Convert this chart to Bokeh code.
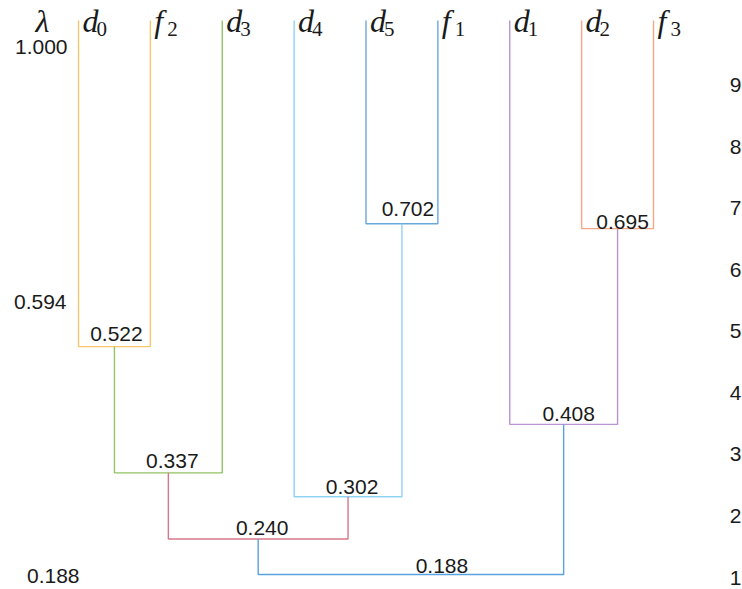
from bokeh.plotting import figure
from bokeh.models import Range1d, ColumnDataSource
from bokeh.core.properties import value
from bokeh.embed import file_html
from bokeh.resources import INLINE

# ---------------- data ----------------
leaf_names = ["d0", "f2", "d3", "d4", "d5", "f1", "d1", "d2", "f3"]
leaf_lambda = 1.000
# merge k is named "m<k>"
merge_left = ["d0", "m0", "d5", "d4", "m1", "d2", "d1", "m4"]
merge_right = ["f2", "d3", "f1", "m2", "m3", "f3", "m5", "m6"]
merge_lambda = [0.522, 0.337, 0.702, 0.302, 0.240, 0.695, 0.408, 0.188]
lambda_ticks = [1.000, 0.594, 0.188]
level_ticks = [1, 2, 3, 4, 5, 6, 7, 8, 9]

# ---------------- style ----------------
merge_colors = ["#f6c66b", "#92c462", "#6aa8dc", "#8fd3f3",
                "#d7788a", "#f5a888", "#ba93d1", "#5aa2dd"]
label_dx = [2, 4, 6, 4, 4, 5, 5, 31]
label_dy = [-12.5, -12, -15, -9.5, -11, -6.5, -10.5, -8.5]
tick_dx = [-11, -12, 1]
tick_dy = [27, 4.5, 1.5]
sub_dx = {"d": 18, "f": 17}
num_font = value("Liberation Sans")
serif = value("Liberation Serif")
ink = "#1a1a1a"

W, H = 742, 589
p = figure(width=W, height=H, output_backend="svg", toolbar_location=None,
           x_range=Range1d(-1.0852, 9.2383), y_range=Range1d(0.16601, 1.02930),
           min_border=0)
p.axis.visible = False
p.grid.visible = False
p.outline_line_color = None
p.extra_y_ranges = {"level": Range1d(0.80508, 10.3726)}

# positions of nodes
pos = {n: float(i) for i, n in enumerate(leaf_names)}
hgt = {n: leaf_lambda for n in leaf_names}
xs, ys, cx = [], [], []
for k, (a, b, lam) in enumerate(zip(merge_left, merge_right, merge_lambda)):
    xa, xb = pos[a], pos[b]
    xs.append([xa, xa, xb, xb])
    ys.append([hgt[a], lam, lam, hgt[b]])
    c = (xa + xb) / 2
    pos["m%d" % k] = c
    hgt["m%d" % k] = lam
    cx.append(c)

p.multi_line(xs="xs", ys="ys", line_color="color", line_width=1.4,
             source=ColumnDataSource(dict(xs=xs, ys=ys, color=merge_colors)))

# merge labels
p.text(x="x", y="y", text="t", x_offset="dx", y_offset="dy",
       source=ColumnDataSource(dict(x=cx, y=merge_lambda,
                                    t=["%.3f" % v for v in merge_lambda],
                                    dx=label_dx, dy=label_dy)),
       text_font=num_font, text_font_size="21px", text_color=ink,
       text_align="center", text_baseline="middle")

# leaf labels: italic letter + upright subscript
lx = [pos[n] for n in leaf_names]
p.text(x=lx, y=[leaf_lambda] * len(lx), text=[n[0] for n in leaf_names],
       x_offset=4, y_offset=1, text_font=serif, text_font_style="italic",
       text_font_size="32px", text_color=ink, text_align="left",
       text_baseline="middle")
p.text(x="x", y="y", text="t", x_offset="dx",
       source=ColumnDataSource(dict(x=lx, y=[leaf_lambda] * len(lx),
                                    t=[n[1:] for n in leaf_names],
                                    dx=[sub_dx[n[0]] for n in leaf_names])),
       y_offset=9, text_font=serif, text_font_size="21px",
       text_color=ink, text_align="left", text_baseline="middle")

# lambda symbol
p.text(x=[pos[leaf_names[0]]], y=[leaf_lambda], text=["λ"], x_offset=-43,
       y_offset=1, text_font=serif, text_font_style="italic",
       text_font_size="32px", text_color=ink, text_align="left",
       text_baseline="middle")

# left lambda ticks
p.text(x=[pos[leaf_names[0]]] * len(lambda_ticks), y=lambda_ticks,
       text=["%.3f" % v for v in lambda_ticks], x_offset=tick_dx, y_offset=tick_dy,
       text_font=num_font, text_font_size="21px", text_color=ink,
       text_align="right", text_baseline="middle")

# right level ticks
p.text(x=[9.2383] * len(level_ticks), y=level_ticks,
       text=[str(v) for v in level_ticks], x_offset=-1, y_range_name="level",
       text_font=num_font, text_font_size="21px", text_color=ink,
       text_align="right", text_baseline="middle")

open("out.html", "w").write(file_html(p, INLINE))
